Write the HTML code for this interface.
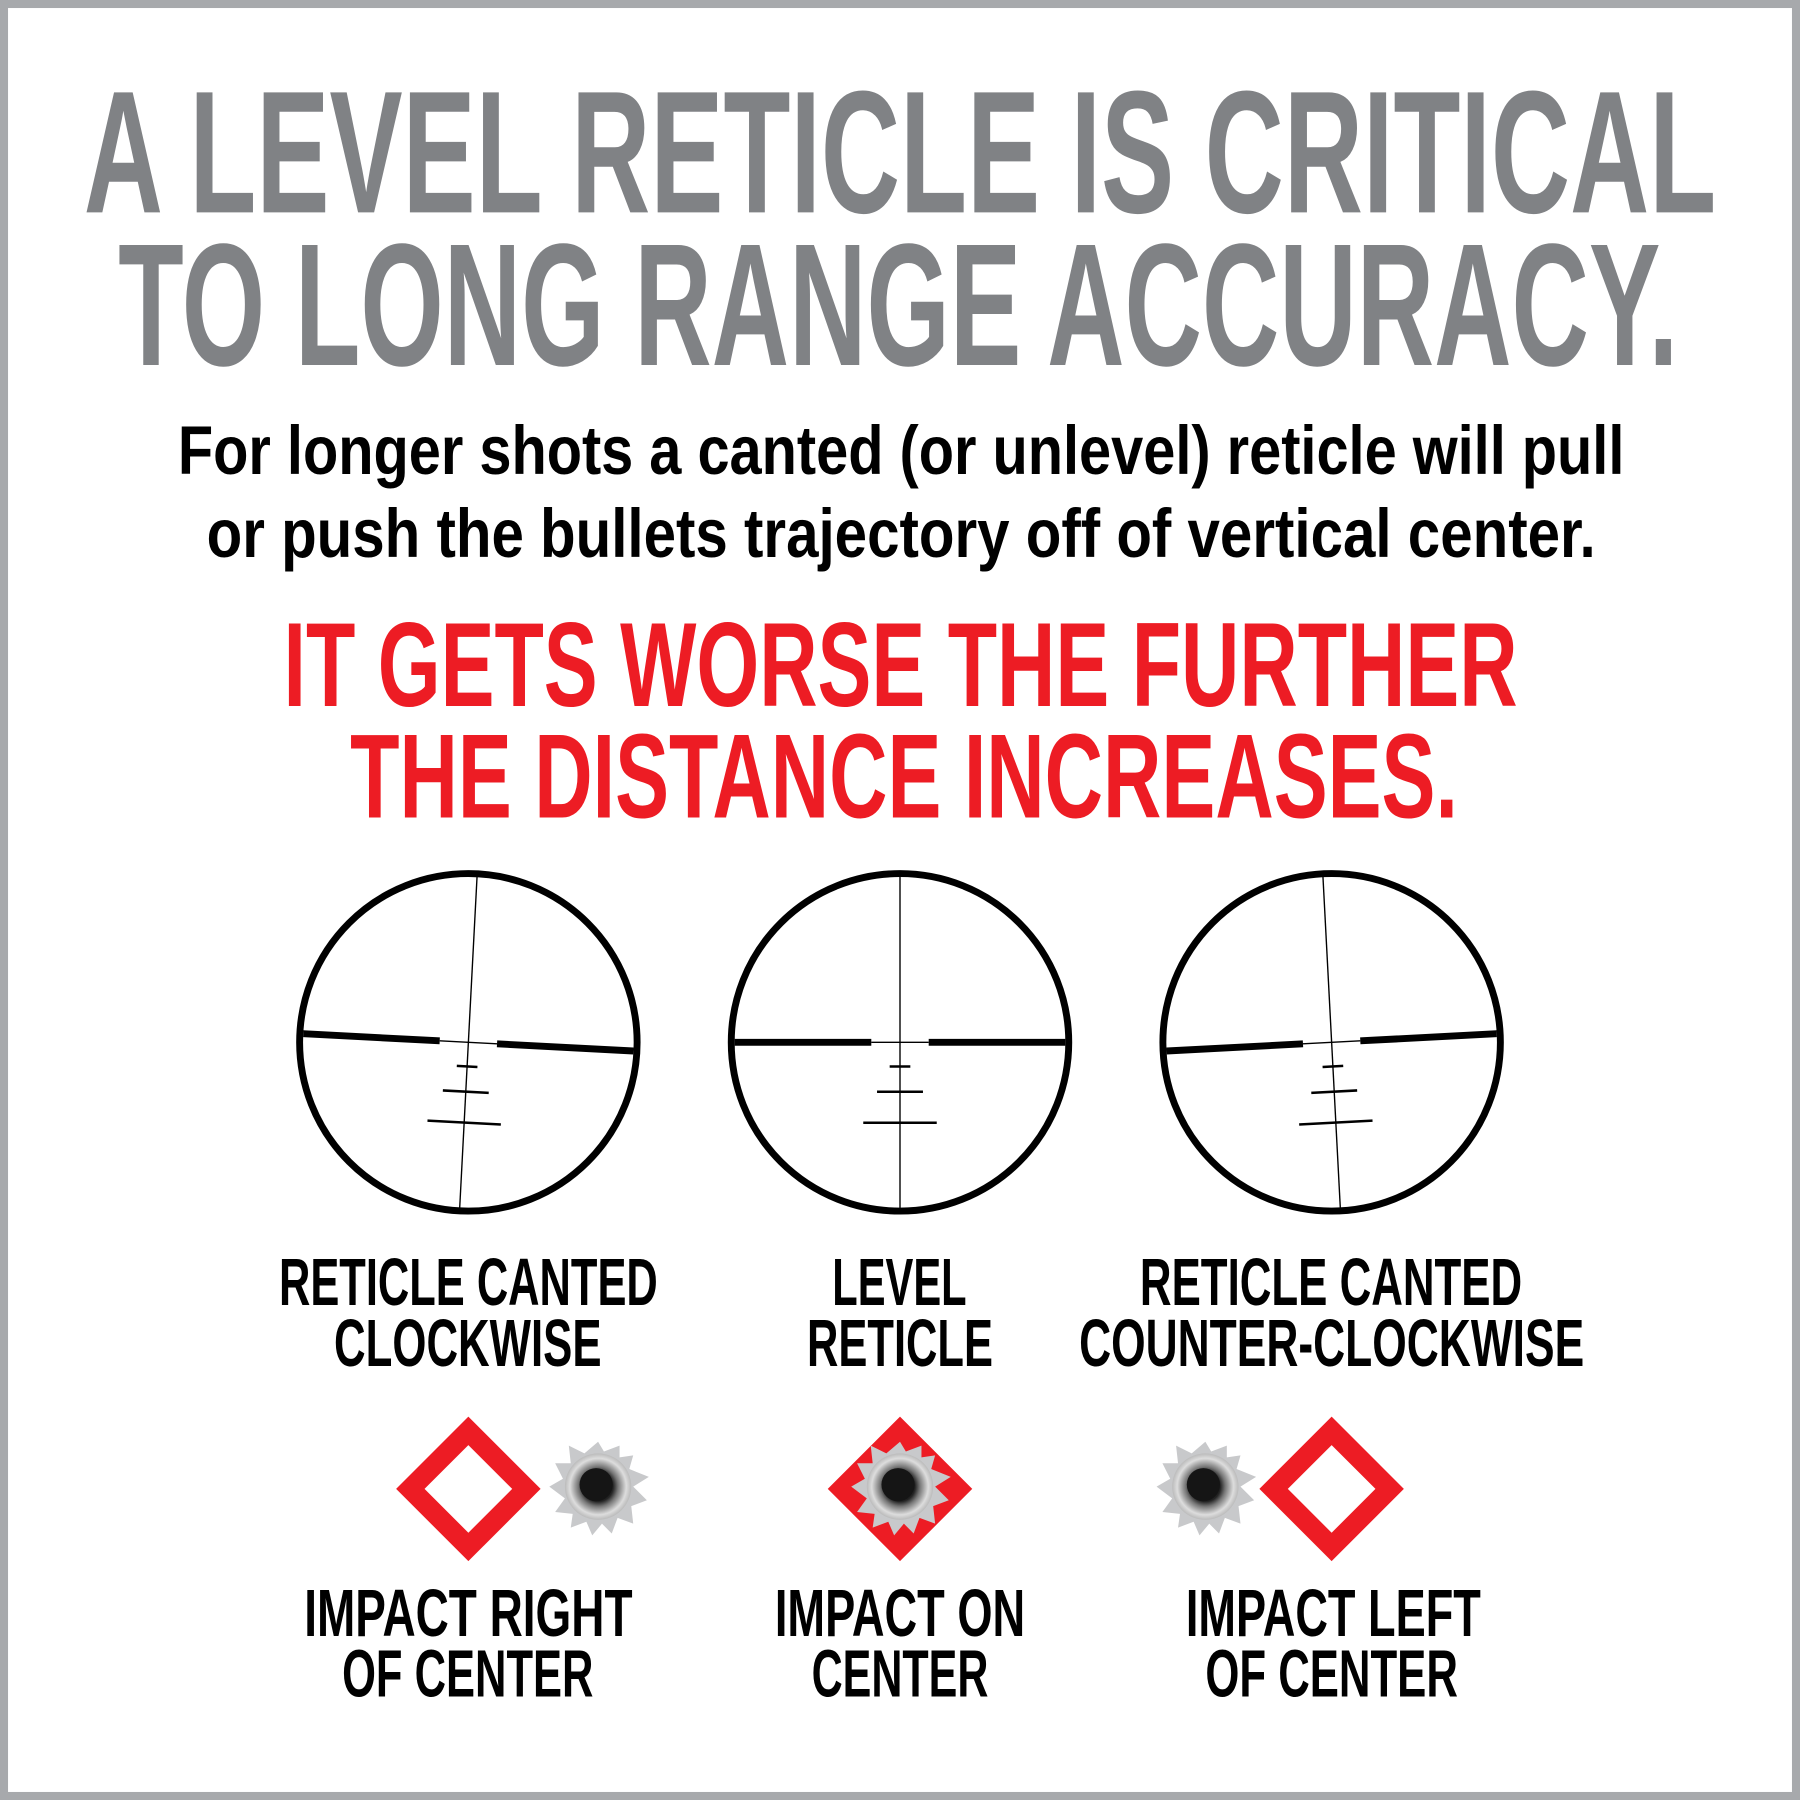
<!DOCTYPE html>
<html><head><meta charset="utf-8"><style>
html,body{margin:0;padding:0;background:#fff}
svg{display:block}
text{font-family:"Liberation Sans",sans-serif;font-weight:bold}
</style></head><body>
<svg width="1800" height="1800" viewBox="0 0 1568 1568" xmlns="http://www.w3.org/2000/svg">
<defs>
<radialGradient id="hg" cx="0.5" cy="0.5" r="0.5">
<stop offset="0" stop-color="#111"/><stop offset="0.45" stop-color="#222"/><stop offset="0.6" stop-color="#777"/><stop offset="0.85" stop-color="#ddd"/><stop offset="1" stop-color="#bbb"/>
</radialGradient>
<g id="ret">
<line x1="640" y1="908" x2="759" y2="908" stroke="#000" stroke-width="6"/>
<line x1="809" y1="908" x2="928" y2="908" stroke="#000" stroke-width="6"/>
<line x1="759" y1="908" x2="809" y2="908" stroke="#000" stroke-width="1.2"/>
<line x1="784" y1="762" x2="784" y2="1055" stroke="#000" stroke-width="1.2"/>
<line x1="775" y1="929" x2="793" y2="929" stroke="#000" stroke-width="2.2"/>
<line x1="764" y1="951" x2="804" y2="951" stroke="#000" stroke-width="2.2"/>
<line x1="752" y1="978" x2="816" y2="978" stroke="#000" stroke-width="2.2"/>
</g>
<g id="hole">
<polygon points="0,-46 6,-36 22,-42 22,-30 36,-32 32,-18 52,-10 36,0 50,14 34,20 36,38 20,32 14,48 4,38 -6,50 -12,36 -28,42 -26,28 -44,26 -34,12 -50,0 -36,-8 -44,-24 -28,-24 -30,-42 -14,-34" fill="#c8c9cb"/>
<circle r="34" fill="url(#hg)"/>
<circle r="17" cx="-2" cy="-2" fill="#151515"/>
</g>
</defs>
<rect x="3.5" y="3.5" width="1561" height="1561" fill="#fff" stroke="#a7a9ac" stroke-width="7"/>
<g fill="#808285">
<text x="73" y="185" font-size="152" textLength="1422" lengthAdjust="spacingAndGlyphs">A LEVEL RETICLE IS CRITICAL</text>
<text x="103" y="318" font-size="152" textLength="1359" lengthAdjust="spacingAndGlyphs">TO LONG RANGE ACCURACY.</text>
</g>
<g fill="#000">
<text x="155" y="413" font-size="60" textLength="1260" lengthAdjust="spacingAndGlyphs">For longer shots a canted (or unlevel) reticle will pull</text>
<text x="180" y="485" font-size="60" textLength="1210" lengthAdjust="spacingAndGlyphs">or push the bullets trajectory off of vertical center.</text>
</g>
<g fill="#ed1c24">
<text x="247" y="615" font-size="104" textLength="1075" lengthAdjust="spacingAndGlyphs">IT GETS WORSE THE FURTHER</text>
<text x="305" y="712" font-size="104" textLength="965" lengthAdjust="spacingAndGlyphs">THE DISTANCE INCREASES.</text>
</g>
<g fill="none" stroke="#000" stroke-width="6">
<circle cx="408" cy="908" r="147"/><circle cx="784" cy="908" r="147"/><circle cx="1160" cy="908" r="147"/>
</g>
<use href="#ret" transform="translate(-376,0) rotate(3 784 908)"/>
<use href="#ret"/>
<use href="#ret" transform="translate(376,0) rotate(-3 784 908)"/>
<g fill="#000" font-size="58">
<text x="243" y="1137" textLength="330" lengthAdjust="spacingAndGlyphs">RETICLE CANTED</text>
<text x="291" y="1190" textLength="233" lengthAdjust="spacingAndGlyphs">CLOCKWISE</text>
<text x="725" y="1137" textLength="117" lengthAdjust="spacingAndGlyphs">LEVEL</text>
<text x="703" y="1190" textLength="162" lengthAdjust="spacingAndGlyphs">RETICLE</text>
<text x="993" y="1137" textLength="333" lengthAdjust="spacingAndGlyphs">RETICLE CANTED</text>
<text x="940" y="1190" textLength="440" lengthAdjust="spacingAndGlyphs">COUNTER-CLOCKWISE</text>
<text x="265" y="1425" textLength="286" lengthAdjust="spacingAndGlyphs">IMPACT RIGHT</text>
<text x="298" y="1478" textLength="219" lengthAdjust="spacingAndGlyphs">OF CENTER</text>
<text x="675" y="1425" textLength="218" lengthAdjust="spacingAndGlyphs">IMPACT ON</text>
<text x="707" y="1478" textLength="154" lengthAdjust="spacingAndGlyphs">CENTER</text>
<text x="1033" y="1425" textLength="257" lengthAdjust="spacingAndGlyphs">IMPACT LEFT</text>
<text x="1050" y="1478" textLength="220" lengthAdjust="spacingAndGlyphs">OF CENTER</text>
</g>
<rect x="372.25" y="1261.25" width="71.5" height="71.5" transform="rotate(45 408 1297)" fill="none" stroke="#ed1c24" stroke-width="17.5"/>
<rect x="1124.25" y="1261.25" width="71.5" height="71.5" transform="rotate(45 1160 1297)" fill="none" stroke="#ed1c24" stroke-width="17.5"/>
<rect x="739.5" y="1252.5" width="89" height="89" transform="rotate(45 784 1297)" fill="#ed1c24"/>
<use href="#hole" transform="translate(521,1295) scale(0.85)"/>
<use href="#hole" transform="translate(784,1295) scale(0.85)"/>
<use href="#hole" transform="translate(1050,1295) scale(0.85)"/>
</svg>
</body></html>
